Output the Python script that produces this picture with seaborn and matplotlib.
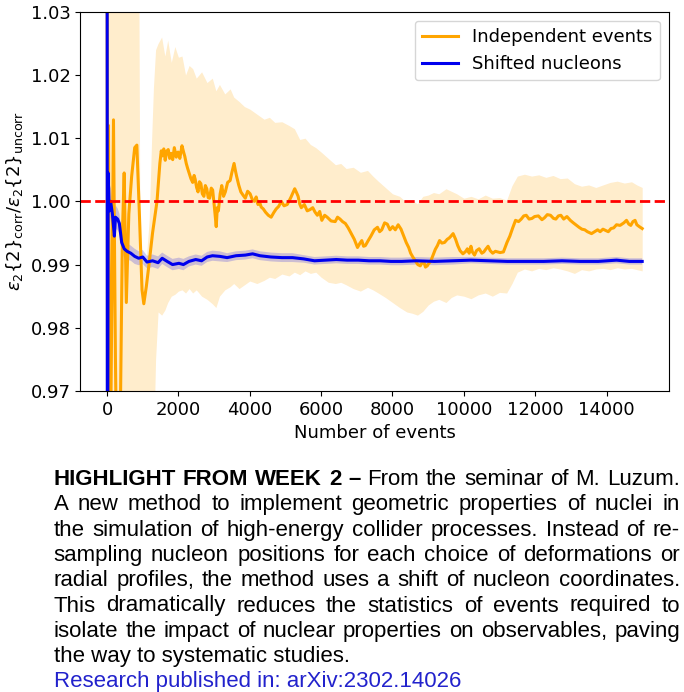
import numpy as np
import pandas as pd
import seaborn as sns
import matplotlib.pyplot as plt

# running ratio for independent events (orange): (events, ratio)
indep_pts = [
    (0, 1.060), (15, 0.940), (40, 1.012), (80, 0.950), (180, 1.0129), (235, 0.975),
    (295, 0.945), (370, 0.965), (430, 0.995), (480, 1.0045), (540, 0.984), (610, 0.998),
    (690, 1.004), (775, 1.0085), (835, 1.0089), (900, 0.999), (980, 0.986), (1030, 0.9838),
    (1100, 0.9865), (1175, 0.990), (1275, 0.995), (1400, 1.000), (1480, 1.006),
    (1520, 1.0080), (1550, 1.0072), (1590, 1.0083), (1630, 1.0065), (1670, 1.0079),
    (1715, 1.0082), (1755, 1.0068), (1795, 1.0076), (1840, 1.0066), (1885, 1.0085),
    (1940, 1.0070), (1990, 1.0078), (2040, 1.0068), (2100, 1.0088), (2145, 1.0078),
    (2180, 1.0071), (2220, 1.0060), (2260, 1.0052), (2305, 1.0044), (2350, 1.0036),
    (2400, 1.0030), (2440, 1.0041), (2470, 1.0035), (2510, 1.0022), (2550, 1.0015),
    (2590, 1.0031), (2630, 1.0028), (2670, 1.0012), (2715, 1.0008), (2755, 1.0025),
    (2795, 1.0020), (2835, 1.0006), (2875, 1.0005), (2920, 1.0021), (2960, 1.0018),
    (3010, 0.9990), (3060, 0.9960), (3090, 0.9990), (3120, 0.9985), (3170, 1.0012),
    (3215, 1.0025), (3265, 1.0008), (3315, 1.0015), (3380, 1.0030), (3450, 1.0033),
    (3500, 1.0046), (3560, 1.0060), (3600, 1.0048), (3630, 1.0040), (3690, 1.0026),
    (3750, 1.0015), (3810, 1.0010), (3875, 1.0005), (3940, 1.0016), (4010, 1.0012),
    (4070, 1.0003), (4130, 1.0000), (4180, 1.0007), (4230, 0.9995), (4275, 0.9999),
    (4320, 0.9991), (4380, 0.9988), (4440, 0.9983), (4520, 0.9978), (4600, 0.9975),
    (4670, 0.9982), (4740, 0.9988), (4810, 0.9992), (4885, 1.0000), (4960, 0.9993),
    (5050, 0.9995), (5150, 1.0006), (5260, 1.0020), (5310, 1.0014), (5355, 1.0008),
    (5400, 0.9996), (5445, 0.9990), (5530, 0.9995), (5610, 0.9985), (5690, 0.9987),
    (5765, 0.9990), (5830, 0.9983), (5895, 0.9978), (5960, 0.9984), (6020, 0.9970),
    (6100, 0.9978), (6170, 0.9975), (6280, 0.9969), (6395, 0.9968), (6460, 0.9975),
    (6530, 0.9972), (6600, 0.9968), (6680, 0.9965), (6760, 0.9958), (6835, 0.9950),
    (6930, 0.9940), (7020, 0.9927), (7080, 0.9933), (7140, 0.9938), (7190, 0.9929),
    (7240, 0.9930), (7320, 0.9938), (7395, 0.9945), (7490, 0.9955), (7580, 0.9959),
    (7640, 0.9952), (7700, 0.9955), (7780, 0.9966), (7855, 0.9964), (7930, 0.9955),
    (8005, 0.9960), (8080, 0.9955), (8160, 0.9963), (8240, 0.9956), (8315, 0.9945),
    (8385, 0.9935), (8455, 0.9927), (8510, 0.9918), (8570, 0.9912), (8640, 0.9906),
    (8710, 0.9900), (8780, 0.9898), (8830, 0.9903), (8875, 0.9905), (8925, 0.9896),
    (8975, 0.9898), (9020, 0.9902), (9070, 0.9905), (9140, 0.9915), (9200, 0.9924),
    (9260, 0.9930), (9320, 0.9938), (9385, 0.9934), (9460, 0.9935), (9535, 0.9940),
    (9590, 0.9942), (9640, 0.9945), (9700, 0.9949), (9770, 0.9940), (9830, 0.9930),
    (9895, 0.9922), (9975, 0.9917), (10055, 0.9921), (10100, 0.9925), (10150, 0.9918),
    (10200, 0.9929), (10240, 0.9920), (10300, 0.9915), (10355, 0.9922), (10430, 0.9925),
    (10505, 0.9918), (10560, 0.9920), (10610, 0.9924), (10680, 0.9929), (10740, 0.9922),
    (10810, 0.9918), (10885, 0.9921), (10950, 0.9920), (11015, 0.9919), (11110, 0.9920),
    (11210, 0.9935), (11290, 0.9945), (11370, 0.9958), (11450, 0.9970), (11535, 0.9968),
    (11610, 0.9972), (11680, 0.9977), (11750, 0.9978), (11830, 0.9972), (11910, 0.9973),
    (11985, 0.9976), (12090, 0.9977), (12190, 0.9971), (12260, 0.9974), (12340, 0.9979),
    (12430, 0.9978), (12515, 0.9973), (12580, 0.9972), (12650, 0.9977), (12720, 0.9978),
    (12800, 0.9972), (12890, 0.9976), (12985, 0.9970), (13070, 0.9966), (13160, 0.9962),
    (13230, 0.9959), (13310, 0.9956), (13390, 0.9955), (13465, 0.9952), (13580, 0.9949),
    (13690, 0.9953), (13750, 0.9955), (13820, 0.9952), (13900, 0.9956), (13975, 0.9954),
    (14050, 0.9952), (14125, 0.9957), (14200, 0.9958), (14280, 0.9963), (14380, 0.9962),
    (14485, 0.9966), (14560, 0.9970), (14625, 0.9964), (14680, 0.9962), (14740, 0.9968),
    (14800, 0.9970), (14850, 0.9963), (14920, 0.9960), (15000, 0.9957),
]
indep_x, indep_y = map(list, zip(*indep_pts))

# uncertainty band of the independent events: (events, low, high)
band_pts = [
    (0, 0.950, 1.050), (880, 0.950, 1.050), (920, 0.950, 0.996), (1000, 0.950, 0.990),
    (1100, 0.950, 0.991), (1180, 0.950, 0.997), (1250, 0.950, 1.010), (1300, 0.960, 1.018),
    (1360, 0.975, 1.024), (1430, 0.9825, 1.025), (1530, 0.982, 1.026), (1620, 0.9828, 1.023),
    (1700, 0.9840, 1.0255), (1800, 0.9850, 1.022), (1900, 0.9853, 1.0245),
    (2000, 0.9858, 1.0228), (2100, 0.9860, 1.023), (2200, 0.9855, 1.020),
    (2300, 0.9862, 1.0215), (2400, 0.9855, 1.021), (2500, 0.9860, 1.0195),
    (2650, 0.9850, 1.0205), (2800, 0.9845, 1.0188), (2950, 0.9838, 1.0195),
    (3050, 0.9832, 1.0175), (3150, 0.9850, 1.0185), (3300, 0.9860, 1.0170),
    (3450, 0.9865, 1.0178), (3550, 0.9870, 1.0165), (3700, 0.9862, 1.0158),
    (3850, 0.9868, 1.0150), (4000, 0.9874, 1.0146), (4200, 0.9870, 1.0138),
    (4400, 0.9875, 1.0130), (4550, 0.9880, 1.0133), (4700, 0.9878, 1.0125),
    (4900, 0.9885, 1.0126), (5100, 0.9882, 1.0120), (5250, 0.9888, 1.0115),
    (5400, 0.9884, 1.0098), (5550, 0.9890, 1.0100), (5700, 0.9886, 1.0090),
    (5850, 0.9888, 1.0085), (6000, 0.9880, 1.0078), (6200, 0.9872, 1.0068),
    (6400, 0.9870, 1.0058), (6550, 0.9872, 1.0060), (6700, 0.9868, 1.0052),
    (6900, 0.9862, 1.0054), (7100, 0.9858, 1.0046), (7300, 0.9864, 1.0049),
    (7450, 0.9860, 1.0040), (7600, 0.9855, 1.0032), (7800, 0.9848, 1.0022),
    (8000, 0.9840, 1.0012), (8200, 0.9832, 1.0008), (8400, 0.9825, 0.9998),
    (8550, 0.9823, 1.0002), (8700, 0.9820, 0.9996), (8850, 0.9826, 1.0008),
    (9000, 0.9836, 1.0010), (9150, 0.9842, 1.0014), (9300, 0.9845, 1.0012),
    (9500, 0.9840, 1.0020), (9650, 0.9848, 1.0016), (9800, 0.9852, 1.0012),
    (10000, 0.9850, 1.0005), (10200, 0.9846, 1.0008), (10400, 0.9852, 1.0004),
    (10600, 0.9855, 1.0010), (10800, 0.9850, 1.0005), (11000, 0.9856, 1.0006),
    (11200, 0.9855, 1.0002), (11350, 0.9870, 1.0025), (11500, 0.9888, 1.0040),
    (11700, 0.9893, 1.0043), (11900, 0.9890, 1.0040), (12100, 0.9894, 1.0042),
    (12300, 0.9892, 1.0038), (12500, 0.9895, 1.0041), (12700, 0.9893, 1.0036),
    (12900, 0.9890, 1.0037), (13100, 0.9886, 1.0028), (13300, 0.9892, 1.0024),
    (13500, 0.9890, 1.0026), (13700, 0.9893, 1.0022), (13900, 0.9894, 1.0026),
    (14100, 0.9892, 1.0030), (14300, 0.9895, 1.0032), (14500, 0.9893, 1.0029),
    (14700, 0.9894, 1.0031), (14850, 0.9892, 1.0026), (15000, 0.9890, 1.0022),
]
band_x, band_lo, band_hi = map(list, zip(*band_pts))

# shifted nucleons (blue): (events, ratio, error)
shift_pts = [
    (0, 1.080, 0.02), (10, 0.920, 0.02), (30, 1.0045, 0.004), (60, 0.9985, 0.003),
    (100, 1.0000, 0.0025), (150, 0.9980, 0.0022), (205, 0.9945, 0.002), (235, 0.9975, 0.0019),
    (295, 0.9972, 0.0017), (345, 0.9965, 0.0016), (410, 0.9935, 0.0015), (480, 0.9925, 0.0014),
    (560, 0.9921, 0.0013), (665, 0.9918, 0.0012), (775, 0.9913, 0.0012), (885, 0.9910, 0.0011),
    (1000, 0.9912, 0.0011), (1120, 0.9904, 0.0010), (1275, 0.9906, 0.0010),
    (1430, 0.9903, 0.0010), (1545, 0.9910, 0.0009), (1685, 0.9905, 0.0009),
    (1835, 0.9900, 0.0009), (2015, 0.9902, 0.0009), (2140, 0.9900, 0.0009),
    (2295, 0.9905, 0.0008), (2485, 0.9908, 0.0008), (2650, 0.9906, 0.0008),
    (2805, 0.9912, 0.0008), (2955, 0.9914, 0.0008), (3160, 0.9913, 0.0008),
    (3365, 0.9911, 0.0007), (3615, 0.9914, 0.0007), (3875, 0.9915, 0.0007),
    (4080, 0.9917, 0.0007), (4285, 0.9914, 0.0007), (4590, 0.9912, 0.0007),
    (4900, 0.9911, 0.0007), (5200, 0.9911, 0.0007), (5510, 0.9909, 0.0006),
    (5815, 0.9906, 0.0006), (6120, 0.9907, 0.0006), (6425, 0.9908, 0.0006),
    (6730, 0.9907, 0.0006), (7040, 0.9907, 0.0006), (7345, 0.9906, 0.0006),
    (7650, 0.9906, 0.0006), (7955, 0.9905, 0.0006), (8260, 0.9905, 0.0006),
    (8670, 0.9906, 0.0006), (9180, 0.9905, 0.0006), (9690, 0.9906, 0.0006),
    (10200, 0.9907, 0.0005), (10710, 0.9906, 0.0005), (11220, 0.9905, 0.0005),
    (11730, 0.9905, 0.0005), (12240, 0.9905, 0.0005), (12750, 0.9906, 0.0005),
    (13260, 0.9905, 0.0005), (13770, 0.9905, 0.0005), (14280, 0.9907, 0.0005),
    (14640, 0.9905, 0.0005), (15000, 0.9905, 0.0005),
]
shift_x, shift_y, shift_err = map(list, zip(*shift_pts))

caption_lines = [
    [("HIGHLIGHT", True), ("FROM", True), ("WEEK", True), ("2", True), ("\u2013", True),
     ("From", False), ("the", False), ("seminar", False), ("of", False), ("M.", False),
     ("Luzum.", False)],
    "A new method to implement geometric properties of nuclei in",
    "the simulation of high-energy collider processes. Instead of re-",
    "sampling nucleon positions for each choice of deformations or",
    "radial profiles, the method uses a shift of nucleon coordinates.",
    "This dramatically reduces the statistics of events required to",
    "isolate the impact of nuclear properties on observables, paving",
]
caption_last = "the way to systematic studies."
caption_link = "Research published in: arXiv:2302.14026"

ORANGE = "#ffa500"
BLUE = "#0000ee"

fig = plt.figure(figsize=(6.84, 6.92), dpi=100)
ax = fig.add_axes([0.1174, 0.435, 0.8606, 0.548])

indep = pd.DataFrame({"events": indep_x, "ratio": indep_y})
shifted = pd.DataFrame({"events": shift_x, "ratio": shift_y, "err": shift_err})

ax.fill_between(band_x, band_lo, band_hi, color=ORANGE, alpha=0.2, lw=0)
ax.fill_between(shifted["events"], shifted["ratio"] - shifted["err"],
                shifted["ratio"] + shifted["err"], color=BLUE, alpha=0.2, lw=0)
sns.lineplot(data=indep, x="events", y="ratio", color=ORANGE, lw=2.2,
             label="Independent events", ax=ax)
sns.lineplot(data=shifted, x="events", y="ratio", color=BLUE, lw=2.2,
             label="Shifted nucleons", ax=ax)
ax.axhline(1.0, color="red", ls="--", lw=2)

ax.set_xlim(-750, 15750)
ax.set_ylim(0.97, 1.03)
ax.set_yticks([0.97, 0.98, 0.99, 1.00, 1.01, 1.02, 1.03])
ax.set_yticklabels([f"{v:.2f}" for v in ax.get_yticks()])
ax.tick_params(labelsize=13)
ax.set_xlabel("Number of events", fontsize=13)
ax.set_ylabel(r"$\varepsilon_2\{2\}_{\rm corr}/\varepsilon_2\{2\}_{\rm uncorr}$", fontsize=13)
ax.legend(loc="upper right", fontsize=13)

# caption, justified word by word
renderer = fig.canvas.get_renderer()
figw = fig.bbox.width
x_left, x_right = 53.5 / figw, 680 / figw
y0 = 1 - 485 / 692
dy = 25.3 / 692
cap_kw = dict(fontsize=16, family="Liberation Sans", va="baseline", color="black")

for i, line in enumerate(caption_lines):
    y = y0 - i * dy
    if isinstance(line, str):
        line = [(w, False) for w in line.split()]
    texts = [fig.text(0, y, w, fontweight="bold" if b else "normal", **cap_kw)
             for w, b in line]
    widths = [t.get_window_extent(renderer).width for t in texts]
    gap = ((x_right - x_left) * figw - sum(widths)) / (len(texts) - 1)
    xpos = x_left * figw
    for t, w in zip(texts, widths):
        t.set_x(xpos / figw)
        xpos += w + gap

fig.text(x_left, y0 - 7 * dy, caption_last, **cap_kw)
link_kw = dict(cap_kw, color="#2222cc")
fig.text(x_left, y0 - 8 * dy, caption_link, **link_kw)

fig.savefig("out.png", dpi=100)
